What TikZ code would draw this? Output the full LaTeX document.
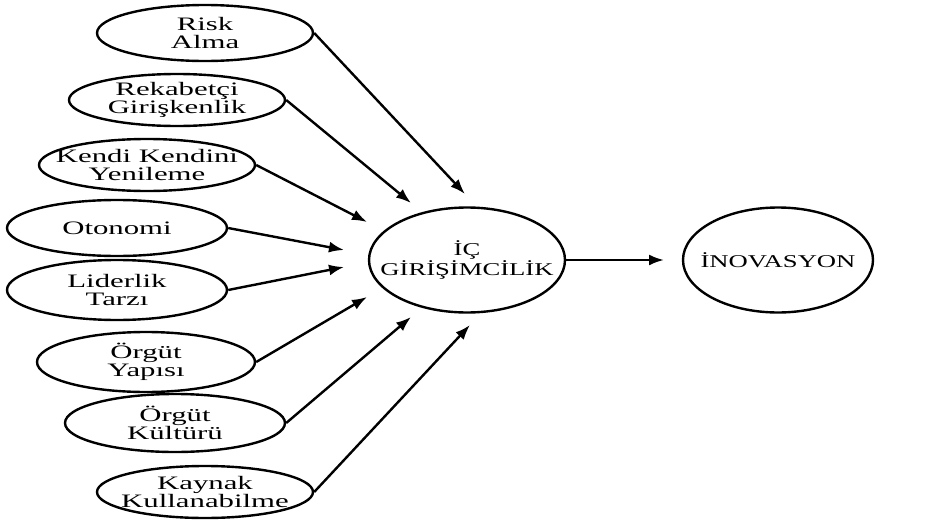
\documentclass[tikz,border=0pt]{standalone}
\usepackage{fontspec}
\setmainfont[FakeStretch=1.62]{Liberation Serif}
\newfontfamily\capsfont[FakeStretch=1.48]{Liberation Serif}
\usetikzlibrary{shapes.geometric,arrows.meta}
\begin{document}
\begin{tikzpicture}[x=1pt,y=-1pt,
  ell/.style={draw,ellipse,line width=2.4pt,inner sep=0pt},
  txt/.style={align=center,inner sep=0pt,font=\fontsize{19}{18.5}\selectfont},
  captxt/.style={align=center,inner sep=0pt,font=\capsfont\fontsize{18}{18}\selectfont},
  arr/.style={line width=2.4pt,-{Latex[length=15pt,width=11pt]}}]
\useasboundingbox (0,0) rectangle (932,522);
% left ellipses
\node[ell,minimum width=216pt,minimum height=56pt] (risk) at (205,33) {};
\node[txt] (riskt) at (risk) {Risk\\Alma};
\node[ell,minimum width=216pt,minimum height=52pt] (rek) at (177,100) {};
\node[txt] (rekt) at (rek) {Rekabetçi\\Girişkenlik};
\node[ell,minimum width=216pt,minimum height=52pt] (ken) at (147,165) {};
\node[txt] (kent) at (ken) {Kendi Kendini\\Yenileme};
\node[ell,minimum width=220pt,minimum height=56pt] (oto) at (117,228) {};
\node[txt] (otot) at (oto) {Otonomi};
\node[ell,minimum width=220pt,minimum height=60pt] (lid) at (117,290) {};
\node[txt] (lidt) at (lid) {Liderlik\\Tarzı};
\node[ell,minimum width=218pt,minimum height=60pt] (yap) at (146,362) {};
\node[txt] (yapt) at (yap) {Örgüt\\Yapısı};
\node[ell,minimum width=220pt,minimum height=58pt] (kul) at (175,423) {};
\node[txt] (kult) at (kul) {Örgüt\\Kültürü};
\node[ell,minimum width=216pt,minimum height=52pt] (kay) at (205,492) {};
\node[txt] (kayt) at (kay) {Kaynak\\Kullanabilme};
% centre and right
\node[ell,minimum width=196pt,minimum height=105pt] (ic) at (467,260) {};
\node[captxt] (ict) at (ic) {İÇ\\GİRİŞİMCİLİK};
\node[ell,minimum width=190pt,minimum height=105pt] (ino) at (778,260) {};
\node[captxt] (inot) at (ino) {İNOVASYON};
% arrow tips
\coordinate (t1) at (465,194);
\coordinate (t2) at (411,203);
\coordinate (t3) at (367,222);
\coordinate (t4) at (344,250);
\coordinate (t5) at (344,267);
\coordinate (t6) at (367,297);
\coordinate (t7) at (411,317);
\coordinate (t8) at (470,325);
\coordinate (t9) at (664,260);
\draw[arr] (risk.east) -- (t1);
\draw[arr] (rek.east) -- (t2);
\draw[arr] (ken.east) -- (t3);
\draw[arr] (oto.east) -- (t4);
\draw[arr] (lid.east) -- (t5);
\draw[arr] (yap.east) -- (t6);
\draw[arr] (kul.east) -- (t7);
\draw[arr] (kay.east) -- (t8);
\draw[arr] (ic.east) -- (t9);
\end{tikzpicture}
\end{document}
